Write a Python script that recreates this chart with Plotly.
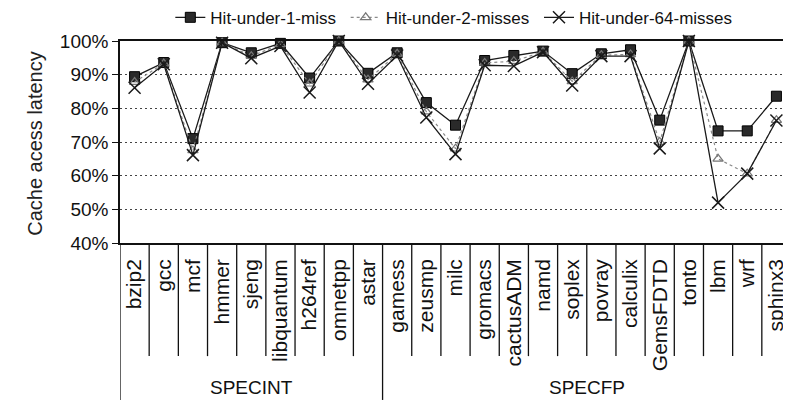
import plotly.graph_objects as go

categories = ["bzip2", "gcc", "mcf", "hmmer", "sjeng", "libquantum", "h264ref", "omnetpp", "astar",
              "gamess", "zeusmp", "milc", "gromacs", "cactusADM", "namd", "soplex", "povray",
              "calculix", "GemsFDTD", "tonto", "lbm", "wrf", "sphinx3"]
groups = ["SPECINT", "SPECFP"]
group_sizes = [9, 14]
series_names = ["Hit-under-1-miss", "Hit-under-2-misses", "Hit-under-64-misses"]

hit1 = [89.4, 93.6, 71.0, 99.5, 96.5, 99.3, 89.0, 100.0, 90.4, 96.5, 81.7, 75.0, 94.2, 95.7,
        97.0, 90.3, 96.2, 97.4, 76.5, 100.0, 73.3, 73.3, 83.6]
hit2 = [87.8, 93.3, 67.5, 99.5, 95.5, 99.0, 87.3, 100.0, 88.5, 96.2, 79.0, 68.0, 93.5, 94.0,
        96.8, 88.0, 95.8, 96.0, 70.0, 100.0, 65.0, 60.6, 76.5]
hit64 = [86.1, 93.1, 66.1, 99.5, 94.9, 98.5, 84.7, 100.0, 87.3, 95.7, 77.3, 66.4, 92.8, 92.6,
         96.7, 86.8, 95.5, 95.5, 68.1, 100.0, 52.0, 60.6, 76.4]

y_ticks = [40, 50, 60, 70, 80, 90, 100]
y_ticktext = ["40%", "50%", "60%", "70%", "80%", "90%", "100%"]

FONT = "Liberation Sans, Arial, Helvetica, sans-serif"
NBSP = "\u00a0"

fig = go.Figure()
fig.add_trace(go.Scatter(
    x=categories, y=hit1, name=series_names[0] + NBSP, mode="lines+markers",
    line=dict(color="#1a1a1a", width=1.3),
    marker=dict(symbol="square", size=10, color="#2a2a2a", line=dict(color="#000", width=1)),
    cliponaxis=False))
fig.add_trace(go.Scatter(
    x=categories, y=hit2, name=series_names[1] + NBSP, mode="lines+markers",
    line=dict(color="#8a8a8a", width=1.2, dash="dot"),
    marker=dict(symbol="triangle-up-open", size=9, color="#777", line=dict(width=1.2)),
    cliponaxis=False))
fig.add_trace(go.Scatter(
    x=categories, y=hit64, name=series_names[2], mode="lines+markers",
    line=dict(color="#1a1a1a", width=1.3),
    marker=dict(symbol="x-thin", size=12, color="#1a1a1a", line=dict(color="#1a1a1a", width=1.5)),
    cliponaxis=False))

# category table lines below the axis
shapes = []
group_edges = [0]
for s in group_sizes:
    group_edges.append(group_edges[-1] + s)
for k in range(len(categories)):
    long_line = k in group_edges
    shapes.append(dict(type="line", xref="x", yref="paper", x0=k - 0.5, x1=k - 0.5,
                       y0=0, y1=-0.777 if long_line else -0.56,
                       line=dict(color="#111", width=1.3)))

annotations = []
for g, a, b in zip(groups, group_edges[:-1], group_edges[1:]):
    annotations.append(dict(text=g, x=(a + b - 1) / 2, xref="x", y=-0.713, yref="paper",
                            showarrow=False, font=dict(size=19, color="#111", family=FONT),
                            xanchor="center", yanchor="middle"))
annotations.append(dict(text="Cache acess latency", textangle=-90, x=-0.127, xref="paper",
                        y=0.495, yref="paper", showarrow=False,
                        font=dict(size=20, color="#222", family=FONT),
                        xanchor="center", yanchor="middle"))

# page body has an 8px default margin; size the figure so the plot lands where the reference has it
fig.update_layout(
    width=783, height=397,
    margin=dict(l=112, r=0, t=33, b=162, autoexpand=False),
    plot_bgcolor="white", paper_bgcolor="white",
    font=dict(family=FONT, color="#111"),
    showlegend=True,
    legend=dict(orientation="h", x=0.075, xanchor="left", y=1.115, yanchor="middle",
                font=dict(size=17, color="#111", family=FONT), bgcolor="rgba(0,0,0,0)",
                itemwidth=30),
    shapes=shapes,
    annotations=annotations,
    xaxis=dict(type="category", range=[-0.5, len(categories) - 0.5], showgrid=False,
               showline=True, mirror=True, linecolor="#111", linewidth=1.5, automargin=False,
               ticks="", tickangle=-90, tickfont=dict(size=21, color="#111", family=FONT),
               ticklabelstandoff=6),
    yaxis=dict(range=[40, 100], tickvals=y_ticks, ticktext=y_ticktext, automargin=False,
               showline=True, linecolor="#111", linewidth=1.5, ticks="outside", ticklen=6,
               tickcolor="#111", tickfont=dict(size=19, color="#111", family=FONT),
               showgrid=True, gridcolor="#444", griddash="2px,3px", gridwidth=1, zeroline=False),
)

fig.write_html("out.html")
